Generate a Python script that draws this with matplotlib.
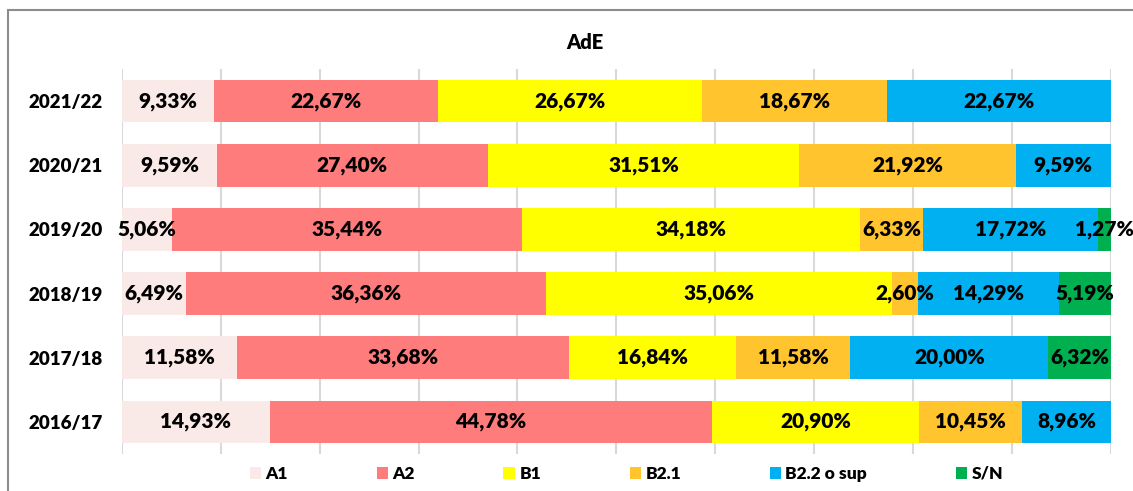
#!/usr/bin/env python3
"""
AdE - stacked percentage bars per school year
"""

import numpy as np
import matplotlib.pyplot as plt
from matplotlib.patches import Rectangle

years = ["2021/22", "2020/21", "2019/20", "2018/19", "2017/18", "2016/17"]
levels = ["A1", "A2", "B1", "B2.1", "B2.2 o sup", "S/N"]

a1 = [9.33, 9.59, 5.06, 6.49, 11.58, 14.93]
a2 = [22.67, 27.40, 35.44, 36.36, 33.68, 44.78]
b1 = [26.67, 31.51, 34.18, 35.06, 16.84, 20.90]
b21 = [18.67, 21.92, 6.33, 2.60, 11.58, 10.45]
b22 = [22.67, 9.59, 17.72, 14.29, 20.00, 8.96]
sn = [0.0, 0.0, 1.27, 5.19, 6.32, 0.0]

colors = ["#FAEAE7", "#FF7C7C", "#FFFF00", "#FFC42E", "#00B0F0", "#00B050"]
WEIGHT = 'heavy'


def main():
    plt.rcParams['font.family'] = ['Lato', 'DejaVu Sans']
    plt.rcParams['font.weight'] = WEIGHT

    fig = plt.figure(figsize=(11.33, 4.91), dpi=100)
    ax = fig.add_axes([0.1077, 0.0754, 0.9803 - 0.1077, 0.8595 - 0.0754])

    series = [a1, a2, b1, b21, b22, sn]
    y = np.arange(len(years))
    left = np.zeros(len(years))
    handles = []
    for vals, col, name in zip(series, colors, levels):
        vals = np.array(vals)
        bars = ax.barh(y, vals, left=left, height=0.665, color=col,
                       label=name, zorder=2)
        handles.append(bars)
        for yi, l, v in zip(y, left, vals):
            if v > 0:
                ax.text(l + v / 2, yi, f"{v:.2f}%".replace(".", ","),
                        ha='center', va='center', fontsize=15,
                        fontweight=WEIGHT, zorder=3)
        left = left + vals

    ax.set_xlim(0, 100)
    ax.set_ylim(len(years) - 0.5, -0.5)
    ax.set_xticks(np.arange(0, 101, 10))
    ax.set_xticklabels([])
    ax.set_yticks(y)
    ax.set_yticklabels(years, fontsize=13.5, fontweight=WEIGHT)
    ax.tick_params(length=0, pad=14)
    ax.grid(axis='x', color='#D9D9D9', linewidth=1.5, zorder=0)
    for s in ax.spines.values():
        s.set_visible(False)

    fig.text(0.516, 0.914, "AdE", ha='center', va='center',
             fontsize=14.5, fontweight=WEIGHT)

    fig.legend(handles=handles, labels=levels, loc='center',
               bbox_to_anchor=(0.553, 0.035), ncol=6, frameon=False,
               handlelength=0.66, handleheight=0.66,
               handletextpad=0.25, columnspacing=5.1,
               prop={'weight': WEIGHT, 'size': 12.5})

    fig.patches.append(Rectangle((0.007, -0.2), 1.2, 1.2 - 10 / 491,
                                 transform=fig.transFigure, fill=False,
                                 edgecolor='#8C8C8C', linewidth=1.5))

    fig.savefig("out.png", dpi=100)


if __name__ == "__main__":
    main()
